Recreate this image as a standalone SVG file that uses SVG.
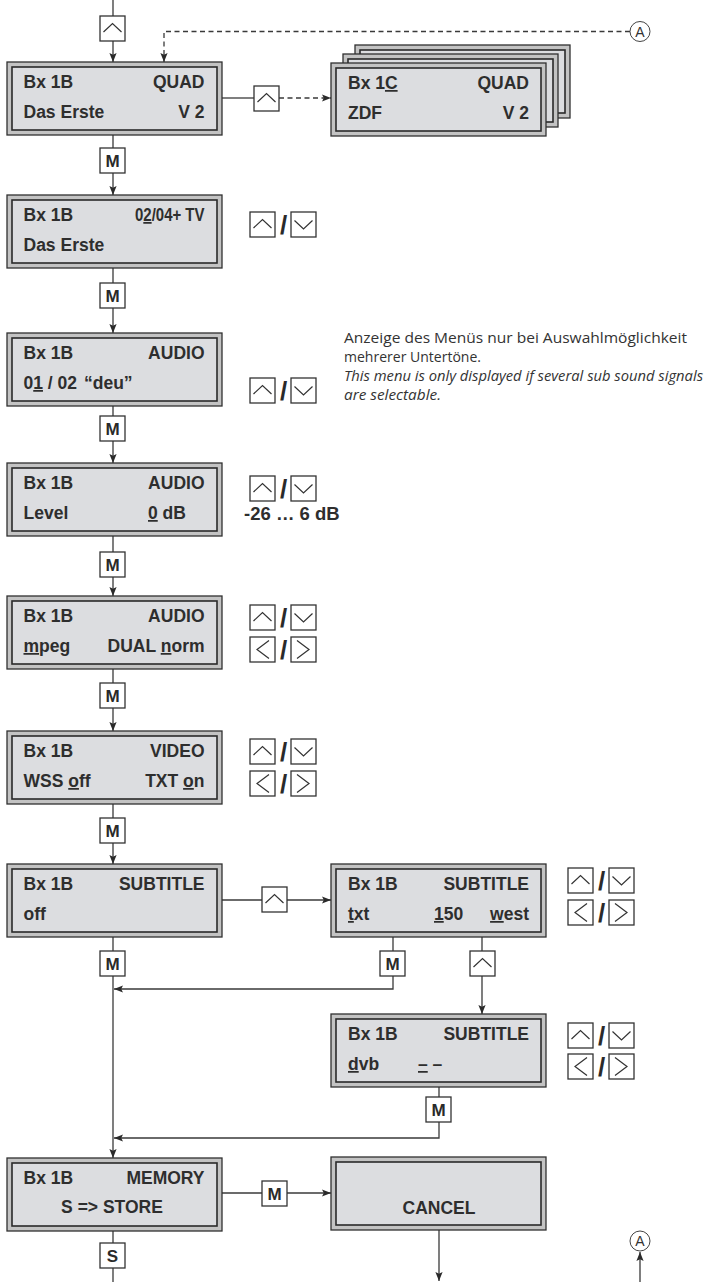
<svg xmlns="http://www.w3.org/2000/svg" xmlns:xlink="http://www.w3.org/1999/xlink" width="720" height="1282" viewBox="0 0 720 1282">
<style>
.lcdo{fill:#c3c3c3;stroke:#303030;stroke-width:1.3}
.lcdi{fill:#dcdde0;stroke:#2a2a2a;stroke-width:1.6}
.t{font-family:"Liberation Sans",Arial,sans-serif;font-weight:bold;font-size:17.5px;fill:#2e2e2e}
.e{text-anchor:end}
.m{text-anchor:middle}
.u{text-decoration:underline}
.key{fill:#fff;stroke:#333;stroke-width:1.3}
.chev{fill:none;stroke:#333;stroke-width:1.2}
.kt{font-family:"Liberation Sans",Arial,sans-serif;font-weight:bold;font-size:17px;fill:#2a2a2a;text-anchor:middle}
.sl{font-family:"Liberation Sans",Arial,sans-serif;font-weight:bold;font-size:26px;fill:#2a2a2a;text-anchor:middle}
.con{fill:none;stroke:#3a3a3a;stroke-width:1.3}
.dash{stroke-dasharray:5 3.5}
.note{font-family:"Open Sans","Noto Sans",sans-serif;font-size:14.5px;fill:#333}
.it{font-style:italic}
.circ{fill:#fff;stroke:#444;stroke-width:1}
.ct{font-family:"Liberation Sans",Arial,sans-serif;font-size:14px;fill:#333;text-anchor:middle}
</style>
<defs>
<marker id="ah" viewBox="0 0 10 10" refX="10" refY="5" markerWidth="9" markerHeight="9" markerUnits="userSpaceOnUse" orient="auto">
<path d="M0,1 L10,5 L0,9 L2,5 z" fill="#2a2a2a"/>
</marker>
<g id="lcd"><rect class="lcdo" x="0" y="0" width="215" height="73"/><rect class="lcdi" x="5" y="5" width="205" height="63"/></g>
<g id="kUp"><rect class="key" x="0" y="0" width="25" height="25"/><path class="chev" d="M3.5,16 L12.5,7.5 L21.5,16"/></g>
<g id="kDown"><rect class="key" x="0" y="0" width="25" height="25"/><path class="chev" d="M3.5,8.5 L12.5,17 L21.5,8.5"/></g>
<g id="kLeft"><rect class="key" x="0" y="0" width="25" height="25"/><path class="chev" d="M19,3.5 L7,12.5 L19,21.5"/></g>
<g id="kRight"><rect class="key" x="0" y="0" width="25" height="25"/><path class="chev" d="M6,3.5 L18,12.5 L6,21.5"/></g>
<g id="kM"><rect class="key" x="0" y="0" width="25" height="25"/><text class="kt" x="12.5" y="19">M</text></g>
<g id="kS"><rect class="key" x="0" y="0" width="25" height="25"/><text class="kt" x="12.5" y="19">S</text></g>
<g id="ud"><use xlink:href="#kUp"/><text class="sl" x="33.5" y="21.5">/</text><use xlink:href="#kDown" x="41"/></g>
<g id="lr"><use xlink:href="#kLeft"/><text class="sl" x="33.5" y="21.5">/</text><use xlink:href="#kRight" x="41"/></g>
</defs>

<g id="connectors">
<path class="con" d="M113,0 V16"/>
<path class="con" d="M113,41 V62" marker-end="url(#ah)"/>
<path class="con dash" d="M630,31.5 H164 V62" marker-end="url(#ah)"/>
<path class="con" d="M222,98 H254"/>
<path class="con dash" d="M279,98 H331" marker-end="url(#ah)"/>
<path class="con" d="M113,135 V148"/>
<path class="con" d="M113,173 V195" marker-end="url(#ah)"/>
<path class="con" d="M113,268 V283"/>
<path class="con" d="M113,308 V333" marker-end="url(#ah)"/>
<path class="con" d="M113,406 V416"/>
<path class="con" d="M113,441 V463" marker-end="url(#ah)"/>
<path class="con" d="M113,536 V552"/>
<path class="con" d="M113,577 V596" marker-end="url(#ah)"/>
<path class="con" d="M113,669 V683"/>
<path class="con" d="M113,708 V731" marker-end="url(#ah)"/>
<path class="con" d="M113,804 V818"/>
<path class="con" d="M113,843 V864" marker-end="url(#ah)"/>
<path class="con" d="M222,900 H262"/>
<path class="con" d="M287,900 H331" marker-end="url(#ah)"/>
<path class="con" d="M113,937 V951"/>
<path class="con" d="M113,976 V1158" marker-end="url(#ah)"/>
<path class="con" d="M393,937 V951"/>
<path class="con" d="M393,976 V989 H114" marker-end="url(#ah)"/>
<path class="con" d="M482,937 V951"/>
<path class="con" d="M482,976 V1014" marker-end="url(#ah)"/>
<path class="con" d="M439,1087 V1097"/>
<path class="con" d="M439,1122 V1138 H114" marker-end="url(#ah)"/>
<path class="con" d="M222,1193 H262"/>
<path class="con" d="M287,1193 H331" marker-end="url(#ah)"/>
<path class="con" d="M113,1231 V1243"/>
<path class="con" d="M113,1268 V1282"/>
<path class="con" d="M439,1230 V1281" marker-end="url(#ah)"/>
<path class="con" d="M640,1282 V1252" marker-end="url(#ah)"/>
</g>

<g id="keys">
<use xlink:href="#kUp" x="100" y="16"/>
<use xlink:href="#kUp" x="254" y="86"/>
<use xlink:href="#kM" x="100" y="148"/>
<use xlink:href="#kM" x="100" y="283"/>
<use xlink:href="#kM" x="100" y="416"/>
<use xlink:href="#kM" x="100" y="552"/>
<use xlink:href="#kM" x="100" y="683"/>
<use xlink:href="#kM" x="100" y="818"/>
<use xlink:href="#kUp" x="262" y="887"/>
<use xlink:href="#kM" x="100" y="951"/>
<use xlink:href="#kM" x="380" y="951"/>
<use xlink:href="#kUp" x="470" y="951"/>
<use xlink:href="#kM" x="426" y="1097"/>
<use xlink:href="#kM" x="262" y="1181"/>
<use xlink:href="#kS" x="100" y="1243"/>
<use xlink:href="#ud" x="250" y="212"/>
<use xlink:href="#ud" x="250" y="378"/>
<use xlink:href="#ud" x="250" y="476"/>
<use xlink:href="#ud" x="250" y="605"/>
<use xlink:href="#lr" x="250" y="637"/>
<use xlink:href="#ud" x="250" y="739"/>
<use xlink:href="#lr" x="250" y="771"/>
<use xlink:href="#ud" x="568" y="868"/>
<use xlink:href="#lr" x="568" y="900"/>
<use xlink:href="#ud" x="568" y="1023"/>
<use xlink:href="#lr" x="568" y="1054"/>
</g>

<g id="markA-top"><circle class="circ" cx="640" cy="31.5" r="10"/><text class="ct" x="640" y="36.5">A</text></g>
<g id="markA-bottom"><circle class="circ" cx="640" cy="1241" r="10"/><text class="ct" x="640" y="1246">A</text></g>

<g id="box1"><use xlink:href="#lcd" x="7" y="62"/>
<text class="t" x="23.5" y="88">Bx 1B</text><text class="t e" x="204.5" y="88">QUAD</text>
<text class="t" x="23.5" y="118">Das Erste</text><text class="t e" x="204.5" y="118">V 2</text></g>

<g id="box1c">
<use xlink:href="#lcd" x="355" y="45"/>
<use xlink:href="#lcd" x="343" y="54"/>
<use xlink:href="#lcd" x="331" y="63"/>
<text class="t" x="348" y="89">Bx 1<tspan class="u">C</tspan></text><text class="t e" x="529" y="89">QUAD</text>
<text class="t" x="348" y="119">ZDF</text><text class="t e" x="529" y="119">V 2</text></g>

<g id="box2"><use xlink:href="#lcd" x="7" y="195"/>
<text class="t" x="23.5" y="221">Bx 1B</text><text class="t" x="135" y="221" textLength="69.5" lengthAdjust="spacingAndGlyphs">0<tspan class="u">2</tspan>/04+ TV</text>
<text class="t" x="23.5" y="251">Das Erste</text></g>

<g id="box3"><use xlink:href="#lcd" x="7" y="333"/>
<text class="t" x="23.5" y="359">Bx 1B</text><text class="t e" x="204.5" y="359">AUDIO</text>
<text class="t" x="23.5" y="389">0<tspan class="u">1</tspan> / 02</text><text class="t" x="84" y="389">“deu”</text></g>

<g id="note">
<text class="note" x="344" y="343" textLength="343" lengthAdjust="spacingAndGlyphs">Anzeige des Menüs nur bei Auswahlmöglichkeit</text>
<text class="note" x="344" y="362" textLength="137" lengthAdjust="spacingAndGlyphs">mehrerer Untertöne.</text>
<text class="note it" x="344" y="381" textLength="359" lengthAdjust="spacingAndGlyphs">This menu is only displayed if several sub sound signals</text>
<text class="note it" x="344" y="400" textLength="97" lengthAdjust="spacingAndGlyphs">are selectable.</text>
</g>

<g id="box4"><use xlink:href="#lcd" x="7" y="463"/>
<text class="t" x="23.5" y="489">Bx 1B</text><text class="t e" x="204.5" y="489">AUDIO</text>
<text class="t" x="23.5" y="519">Level</text><text class="t" x="148" y="519"><tspan class="u">0</tspan> dB</text></g>
<text id="range" class="t" x="244" y="520" style="font-size:18.5px">-26 … 6 dB</text>

<g id="box5"><use xlink:href="#lcd" x="7" y="596"/>
<text class="t" x="23.5" y="622">Bx 1B</text><text class="t e" x="204.5" y="622">AUDIO</text>
<text class="t" x="23.5" y="652"><tspan class="u">m</tspan>peg</text><text class="t e" x="204.5" y="652">DUAL <tspan class="u">n</tspan>orm</text></g>

<g id="box6"><use xlink:href="#lcd" x="7" y="731"/>
<text class="t" x="23.5" y="757">Bx 1B</text><text class="t e" x="204.5" y="757">VIDEO</text>
<text class="t" x="23.5" y="787">WSS <tspan class="u">o</tspan>ff</text><text class="t e" x="204.5" y="787">TXT <tspan class="u">o</tspan>n</text></g>

<g id="box7"><use xlink:href="#lcd" x="7" y="864"/>
<text class="t" x="23.5" y="890">Bx 1B</text><text class="t e" x="204.5" y="890">SUBTITLE</text>
<text class="t" x="23.5" y="920">off</text></g>

<g id="box8"><use xlink:href="#lcd" x="331" y="864"/>
<text class="t" x="348" y="890">Bx 1B</text><text class="t e" x="529" y="890">SUBTITLE</text>
<text class="t" x="348" y="920"><tspan class="u">t</tspan>xt</text><text class="t" x="434" y="920"><tspan class="u">1</tspan>50</text><text class="t e" x="529" y="920"><tspan class="u">w</tspan>est</text></g>

<g id="box9"><use xlink:href="#lcd" x="331" y="1014"/>
<text class="t" x="348" y="1040">Bx 1B</text><text class="t e" x="529" y="1040">SUBTITLE</text>
<text class="t" x="348" y="1070"><tspan class="u">d</tspan>vb</text><text class="t" x="418" y="1070"><tspan class="u">–</tspan> –</text></g>

<g id="box10"><use xlink:href="#lcd" x="7" y="1158"/>
<text class="t" x="23.5" y="1184">Bx 1B</text><text class="t e" x="204.5" y="1184">MEMORY</text>
<text class="t m" x="112" y="1213">S =&gt; STORE</text></g>

<g id="cancel"><use xlink:href="#lcd" x="331" y="1157"/>
<text class="t m" x="439" y="1214">CANCEL</text></g>
</svg>
